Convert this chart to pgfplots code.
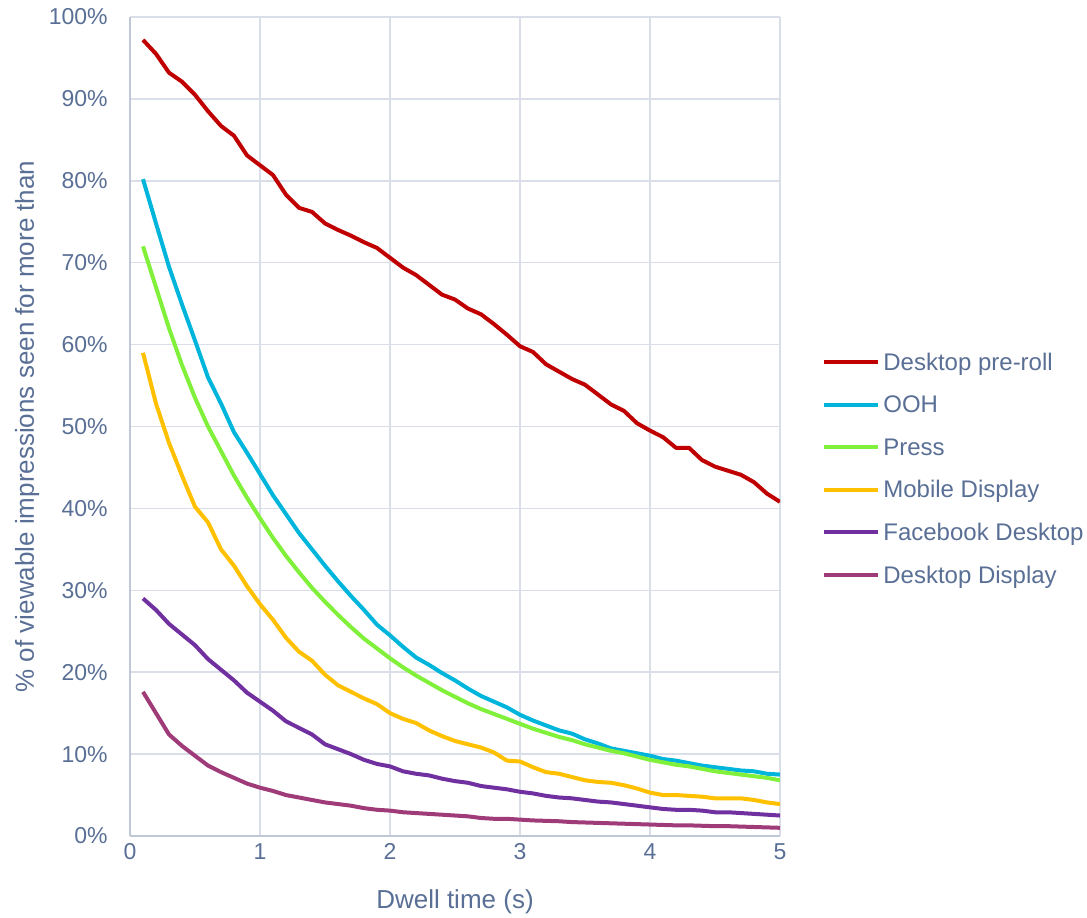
\documentclass[border=0pt]{standalone}
\usepackage{fontspec}
\setmainfont{Liberation Sans}
\usepackage{pgfplots}
\usepackage{pgfplotstable}
\pgfplotsset{compat=1.18}
\definecolor{txt}{RGB}{89,111,149}
\definecolor{gridc}{RGB}{217,222,232}
\definecolor{axc}{RGB}{190,200,215}
\definecolor{cRed}{HTML}{C00000}
\definecolor{cCyan}{HTML}{00B5DB}
\definecolor{cGreen}{HTML}{80F03A}
\definecolor{cOrange}{HTML}{FFC000}
\definecolor{cPurple}{HTML}{7030A0}
\definecolor{cMag}{HTML}{9F3B78}
\pgfplotstableread{
x    pre   ooh   press mob   fb    dd
0.1  97.2  80.2  72.0  59.0  29.0  17.6
0.2  95.5  74.8  67.0  52.8  27.6  15.0
0.3  93.2  69.5  62.0  48.0  25.9  12.4
0.4  92.1  64.9  57.5  44.0  24.6  11.0
0.5  90.5  60.5  53.5  40.2  23.3  9.8
0.6  88.5  56.0  50.0  38.3  21.6  8.6
0.7  86.7  52.8  47.0  35.0  20.3  7.8
0.8  85.5  49.3  44.0  33.0  19.0  7.1
0.9  83.1  46.8  41.3  30.5  17.5  6.4
1.0  81.9  44.2  38.8  28.3  16.4  5.9
1.1  80.7  41.6  36.4  26.4  15.3  5.5
1.2  78.3  39.3  34.2  24.2  14.0  5.0
1.3  76.7  37.0  32.2  22.5  13.2  4.7
1.4  76.2  35.0  30.3  21.4  12.4  4.4
1.5  74.8  33.0  28.6  19.7  11.2  4.1
1.6  74.0  31.1  27.0  18.4  10.6  3.9
1.7  73.3  29.3  25.5  17.6  10.0  3.7
1.8  72.5  27.6  24.1  16.8  9.3   3.4
1.9  71.8  25.8  22.9  16.1  8.8   3.2
2.0  70.6  24.5  21.7  15.0  8.5   3.1
2.1  69.4  23.1  20.6  14.3  7.9   2.9
2.2  68.5  21.8  19.6  13.8  7.6   2.8
2.3  67.3  20.9  18.7  12.9  7.4   2.7
2.4  66.1  19.9  17.8  12.2  7.0   2.6
2.5  65.5  19.0  17.0  11.6  6.7   2.5
2.6  64.4  18.0  16.2  11.2  6.5   2.4
2.7  63.7  17.1  15.5  10.8  6.1   2.2
2.8  62.5  16.4  14.9  10.2  5.9   2.1
2.9  61.2  15.7  14.3  9.2   5.7   2.1
3.0  59.8  14.8  13.7  9.1   5.4   2.0
3.1  59.1  14.1  13.1  8.4   5.2   1.9
3.2  57.6  13.5  12.6  7.8   4.9   1.85
3.3  56.7  12.9  12.1  7.6   4.7   1.8
3.4  55.8  12.5  11.7  7.2   4.6   1.7
3.5  55.1  11.8  11.2  6.8   4.4   1.65
3.6  53.9  11.3  10.8  6.6   4.2   1.6
3.7  52.7  10.7  10.4  6.5   4.1   1.55
3.8  51.9  10.4  10.1  6.2   3.9   1.5
3.9  50.4  10.1  9.7   5.8   3.7   1.45
4.0  49.5  9.8   9.3   5.3   3.5   1.4
4.1  48.7  9.4   9.0   5.0   3.3   1.35
4.2  47.4  9.2   8.7   5.0   3.2   1.3
4.3  47.4  8.9   8.5   4.9   3.2   1.3
4.4  45.9  8.6   8.2   4.8   3.1   1.25
4.5  45.1  8.4   7.9   4.6   2.9   1.2
4.6  44.6  8.2   7.7   4.6   2.9   1.2
4.7  44.1  8.0   7.5   4.6   2.8   1.15
4.8  43.2  7.9   7.3   4.4   2.7   1.1
4.9  41.8  7.6   7.1   4.1   2.6   1.05
5.0  40.8  7.5   6.8   3.9   2.5   1.0
}\data
\begin{document}
\begin{tikzpicture}
\useasboundingbox (0,0) rectangle (543.5pt,458.5pt);
\begin{axis}[
  at={(65pt,40.5pt)}, anchor=south west,
  scale only axis, width=325pt, height=409.5pt,
  xmin=0, xmax=5, ymin=0, ymax=100,
  axis lines=left,
  axis line style={-, draw=axc, line width=0.8pt},
  grid=major,
  major grid style={draw=gridc, line width=0.8pt},
  major tick length=0pt,
  xtick={0,1,2,3,4,5},
  xticklabels={0,1,2,3,4,5},
  ytick={0,10,20,30,40,50,60,70,80,90,100},
  yticklabels={0\%,10\%,20\%,30\%,40\%,50\%,60\%,70\%,80\%,90\%,100\%},
  tick label style={font=\fontsize{11.5pt}{13pt}\selectfont, text=txt, inner sep=0pt},
  yticklabel style={anchor=east, xshift=-11pt},
  xticklabel style={anchor=north, yshift=-3.5pt},
  xlabel={Dwell time (s)},
  ylabel={\% of viewable impressions seen for more than},
  label style={font=\fontsize{13pt}{15pt}\selectfont, text=txt, inner sep=0pt},
  xlabel style={at={(axis description cs:0.5,-0.0891)}, anchor=base},
  ylabel style={at={(axis description cs:-0.1477,0.5)}, anchor=base},
  legend image code/.code={\draw[#1, line width=2pt] (0pt,0pt) -- (27pt,0pt);},
  legend style={draw=none, fill=none, at={(1.0646,0.4487)}, anchor=west,
    inner sep=0pt, row sep=9.3pt, column sep=0pt,
    font=\fontsize{12pt}{14pt}\selectfont, text=txt,
    nodes={inner xsep=1.5pt, inner ysep=0pt, text height=10pt, text depth=2pt}},
  legend cell align=left,
  every axis plot/.append style={line width=2pt, line join=round},
]
\addplot[cRed, no marks] table[x=x, y=pre] {\data};
\addlegendentry{Desktop pre-roll}
\addplot[cCyan, no marks] table[x=x, y=ooh] {\data};
\addlegendentry{OOH}
\addplot[cGreen, no marks] table[x=x, y=press] {\data};
\addlegendentry{Press}
\addplot[cOrange, no marks] table[x=x, y=mob] {\data};
\addlegendentry{Mobile Display}
\addplot[cPurple, no marks] table[x=x, y=fb] {\data};
\addlegendentry{Facebook Desktop}
\addplot[cMag, no marks] table[x=x, y=dd] {\data};
\addlegendentry{Desktop Display}
\end{axis}
\end{tikzpicture}
\end{document}
